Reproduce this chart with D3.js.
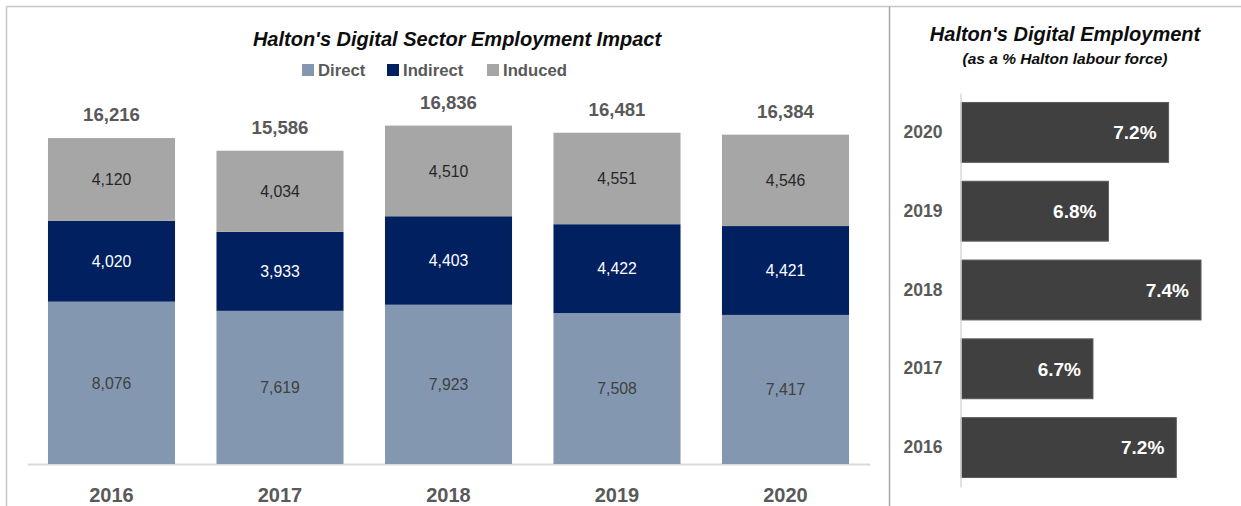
<!DOCTYPE html>
<html>
<head>
<meta charset="utf-8">
<script src="https://cdn.jsdelivr.net/npm/d3@7"></script>
<style>
  html, body { margin: 0; padding: 0; background: #ffffff; }
  svg { display: block; font-family: "Liberation Sans", Arial, sans-serif; }
</style>
</head>
<body>
<svg id="chart" width="1241" height="506"></svg>
<script>
// ---- Data ----
const years = ["2016", "2017", "2018", "2019", "2020"];
const seriesNames = ["Direct", "Indirect", "Induced"];
const direct   = [8076, 7619, 7923, 7508, 7417];
const indirect = [4020, 3933, 4403, 4422, 4421];
const induced  = [4120, 4034, 4510, 4551, 4546];
const totals   = [16216, 15586, 16836, 16481, 16384];

const pctYears  = ["2020", "2019", "2018", "2017", "2016"];
const pctValues = [7.19, 6.80, 7.40, 6.70, 7.24];

// ---- Styles ----
const colors = { Direct: "#8497b0", Indirect: "#002060", Induced: "#a6a6a6" };
const labelColors = { Direct: "#404040", Indirect: "#ffffff", Induced: "#262626" };
const grayText = "#595959";

const svg = d3.select("#chart");

// ---- Frame ----
svg.append("line").attr("x1", 6.5).attr("x2", 1241).attr("y1", 6.5).attr("y2", 6.5)
  .attr("stroke", "#c8c8c8").attr("stroke-width", 1.5);
svg.append("line").attr("x1", 6.5).attr("x2", 6.5).attr("y1", 6.5).attr("y2", 506)
  .attr("stroke", "#c8c8c8").attr("stroke-width", 1.5);
svg.append("line").attr("x1", 889.5).attr("x2", 889.5).attr("y1", 6.5).attr("y2", 506)
  .attr("stroke", "#a6a6a6").attr("stroke-width", 1.5);

// ---- Left chart: stacked columns ----
const rows = years.map((y, i) => ({ year: y, Direct: direct[i], Indirect: indirect[i], Induced: induced[i], total: totals[i] }));
const stack = d3.stack().keys(seriesNames)(rows);

const x = d3.scaleBand().domain(years).range([27.25, 869.75]).paddingInner(0.246).paddingOuter(0.123);
const y = d3.scaleLinear().domain([0, 20000]).range([464, 62]);

const gLeft = svg.append("g");

// baseline axis
const xAxis = d3.axisBottom(x).tickSize(0).tickPadding(0);
const axG = gLeft.append("g").attr("transform", `translate(0,${y(0)})`).call(xAxis);
axG.select(".domain").attr("stroke", "#d9d9d9").attr("stroke-width", 2);
axG.selectAll(".tick text")
  .attr("y", 38)
  .attr("dy", 0)
  .attr("fill", grayText)
  .attr("font-size", 20)
  .attr("font-weight", "bold")
  .attr("font-family", "Liberation Sans, Arial, sans-serif");

const layers = gLeft.selectAll("g.layer").data(stack).join("g").attr("class", "layer")
  .attr("fill", d => colors[d.key]);
layers.selectAll("rect").data(d => d).join("rect")
  .attr("x", d => x(d.data.year))
  .attr("width", x.bandwidth())
  .attr("y", d => y(d[1]))
  .attr("height", d => y(d[0]) - y(d[1]));

// segment labels
stack.forEach(layer => {
  gLeft.append("g").selectAll("text").data(layer).join("text")
    .attr("x", d => x(d.data.year) + x.bandwidth() / 2)
    .attr("y", d => (y(d[0]) + y(d[1])) / 2)
    .attr("dy", "0.36em")
    .attr("text-anchor", "middle")
    .attr("font-size", 15.8)
    .attr("fill", labelColors[layer.key])
    .text(d => d3.format(",")(d.data[layer.key]));
});

// totals
gLeft.append("g").selectAll("text").data(rows).join("text")
  .attr("x", d => x(d.year) + x.bandwidth() / 2)
  .attr("y", d => y(d.total) - 17)
  .attr("text-anchor", "middle")
  .attr("font-size", 18.6)
  .attr("font-weight", "bold")
  .attr("fill", grayText)
  .text(d => d3.format(",")(d.total));

// title
gLeft.append("text")
  .attr("x", 457).attr("y", 46)
  .attr("text-anchor", "middle")
  .attr("font-size", 20)
  .attr("font-weight", "bold")
  .attr("font-style", "italic")
  .attr("fill", "#0d0d0d")
  .text("Halton's Digital Sector Employment Impact");

// legend
const legendX = [302, 387, 487];
const legend = gLeft.append("g").selectAll("g").data(seriesNames).join("g")
  .attr("transform", (d, i) => `translate(${legendX[i]},64)`);
legend.append("rect").attr("width", 12).attr("height", 12).attr("fill", d => colors[d]);
legend.append("text").attr("x", 16).attr("y", 12)
  .attr("font-size", 16.7)
  .attr("font-weight", "bold")
  .attr("fill", grayText)
  .text(d => d);

// ---- Right chart: horizontal bars ----
const gRight = svg.append("g");
const yb = d3.scaleBand().domain(pctYears).range([93, 487]).paddingInner(0.24).paddingOuter(0.12);
const xb = d3.scaleLinear().domain([5.845, 7.4]).range([961, 1201]);

gRight.selectAll("rect").data(pctYears).join("rect")
  .attr("x", xb(5.845))
  .attr("y", d => yb(d))
  .attr("width", (d, i) => xb(pctValues[i]) - xb(5.845))
  .attr("height", yb.bandwidth())
  .attr("fill", "#404040")
  .attr("stroke", "#5a5a5a")
  .attr("stroke-width", 1);

const yAxis = d3.axisLeft(yb).tickSize(0).tickPadding(18);
const yAx = gRight.append("g").attr("transform", `translate(960.5,0)`).call(yAxis);
yAx.select(".domain").attr("stroke", "#d9d9d9").attr("stroke-width", 1.5);
yAx.selectAll(".tick text")
  .attr("fill", grayText)
  .attr("font-size", 17.5)
  .attr("font-weight", "bold")
  .attr("font-family", "Liberation Sans, Arial, sans-serif");

gRight.append("g").selectAll("text").data(pctYears).join("text")
  .attr("x", (d, i) => xb(pctValues[i]) - 12)
  .attr("y", d => yb(d) + yb.bandwidth() / 2)
  .attr("dy", "0.36em")
  .attr("text-anchor", "end")
  .attr("font-size", 19)
  .attr("font-weight", "bold")
  .attr("fill", "#ffffff")
  .text((d, i) => d3.format(".1f")(pctValues[i]) + "%");

gRight.append("text")
  .attr("x", 1065).attr("y", 41)
  .attr("text-anchor", "middle")
  .attr("font-size", 20)
  .attr("font-weight", "bold")
  .attr("font-style", "italic")
  .attr("fill", "#0d0d0d")
  .text("Halton's Digital Employment");

gRight.append("text")
  .attr("x", 1065).attr("y", 64)
  .attr("text-anchor", "middle")
  .attr("font-size", 15.5)
  .attr("font-weight", "bold")
  .attr("font-style", "italic")
  .attr("fill", "#0d0d0d")
  .text("(as a % Halton labour force)");
</script>
</body>
</html>
